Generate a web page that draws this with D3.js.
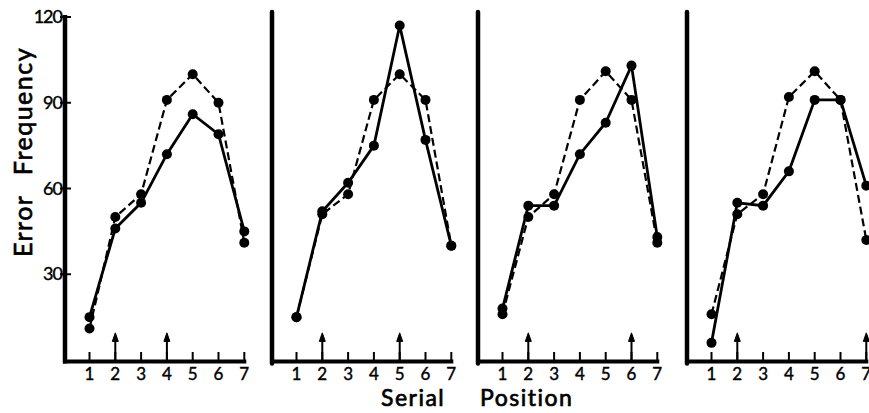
<!DOCTYPE html>
<html>
<head>
<meta charset="utf-8">
<script src="https://cdn.jsdelivr.net/npm/d3@7"></script>
<style>
  body { margin: 0; background: #fff; }
  svg { display: block; font-family: Lato, "DejaVu Sans", sans-serif; }
</style>
</head>
<body>
<div class="chart"></div>
<script>
// serial positions on the x axis
const positions = [1, 2, 3, 4, 5, 6, 7];
const yTicks = [30, 60, 90, 120];

// error frequency per panel, solid and dashed curves
const solidSeries = [
    [15, 46, 55, 72, 86, 79, 45],
    [15, 52, 62, 75, 117, 77, 40],
    [18, 54, 54, 72, 83, 103, 43],
    [6, 55, 54, 66, 91, 91, 61]
];
const dashedSeries = [
    [11, 50, 58, 91, 100, 90, 41],
    [15, 51, 58, 91, 100, 91, 40],
    [16, 50, 58, 91, 101, 91, 41],
    [16, 51, 58, 92, 101, 91, 42]
];
// arrows marking positions in each panel
const arrowSeries = [[2, 4], [2, 5], [2, 6], [2, 7]];

const width = 869, height = 413;
const panelLeft = [65, 272, 478, 687];
const baseY = 360;

const svg = d3.select(".chart").append("svg")
    .attr("width", width)
    .attr("height", height);

const y = d3.scaleLinear().domain([0, 120]).range([baseY, 17]);

solidSeries.forEach((solid, p) => {
    const x0 = panelLeft[p];
    const x = d3.scaleLinear().domain([1, 7]).range([x0 + 24.5, x0 + 179.3]);
    const g = svg.append("g");

    // x axis baseline with upward ticks
    g.append("line")
        .attr("x1", x0 - 2).attr("x2", x(7) + 2)
        .attr("y1", baseY + 1.5).attr("y2", baseY + 1.5)
        .attr("stroke", "#000").attr("stroke-width", 4);

    g.selectAll(".xtick").data(positions).enter().append("line")
        .attr("x1", d => x(d)).attr("x2", d => x(d))
        .attr("y1", baseY).attr("y2", baseY - 8)
        .attr("stroke", "#000").attr("stroke-width", 2);

    g.selectAll(".xlabel").data(positions).enter().append("text")
        .attr("x", d => x(d))
        .attr("y", baseY + 20)
        .attr("text-anchor", "middle")
        .attr("font-size", 17)
        .attr("stroke", "#000").attr("stroke-width", 0.4)
        .text(d => d);

    // y axis
    g.append("line")
        .attr("x1", x0).attr("x2", x0)
        .attr("y1", p === 0 ? 15 : 12).attr("y2", baseY + 3.5)
        .attr("stroke", "#000").attr("stroke-width", 4.5)
        .attr("stroke-linecap", p === 0 ? "butt" : "round");

    if (p === 0) {
        g.selectAll(".ytick").data(yTicks).enter().append("line")
            .attr("x1", x0 - 5).attr("x2", x0 + 6)
            .attr("y1", d => y(d)).attr("y2", d => y(d))
            .attr("stroke", "#000").attr("stroke-width", 2);

        g.selectAll(".ylabel").data(yTicks).enter().append("text")
            .attr("x", x0 - 3)
            .attr("y", d => y(d) + 6)
            .attr("text-anchor", "end")
            .attr("font-size", 18)
            .attr("letter-spacing", -1)
            .attr("stroke", "#000").attr("stroke-width", 0.4)
            .text(d => d);
    }

    // arrows
    arrowSeries[p].forEach(a => {
        g.append("line")
            .attr("x1", x(a)).attr("x2", x(a))
            .attr("y1", baseY).attr("y2", y(8.5))
            .attr("stroke", "#000").attr("stroke-width", 2);
        g.append("path")
            .attr("d", `M${x(a) - 3},${y(6.5)} L${x(a)},${y(9.5)} L${x(a) + 3},${y(6.5)} Z`)
            .attr("fill", "#000").attr("stroke", "#000").attr("stroke-width", 1);
    });

    const line = d3.line()
        .x((d, i) => x(positions[i]))
        .y(d => y(d));

    g.append("path")
        .datum(dashedSeries[p])
        .attr("d", line)
        .attr("fill", "none")
        .attr("stroke", "#000")
        .attr("stroke-width", 2.2)
        .attr("stroke-dasharray", "8,4");

    g.append("path")
        .datum(solid)
        .attr("d", line)
        .attr("fill", "none")
        .attr("stroke", "#000")
        .attr("stroke-width", 2.8);

    const dots = dashedSeries[p].concat(solid);
    g.selectAll(".dot").data(dots).enter().append("circle")
        .attr("cx", (d, i) => x(positions[i % 7]))
        .attr("cy", d => y(d))
        .attr("r", 5)
        .attr("fill", "#000");
});

// axis titles
svg.append("text")
    .attr("transform", "translate(32,152) rotate(-90)")
    .attr("text-anchor", "middle")
    .attr("font-size", 25)
    .attr("stroke", "#000").attr("stroke-width", 0.7)
    .attr("word-spacing", 12)
    .attr("letter-spacing", 1.5)
    .text("Error Frequency");

svg.append("text")
    .attr("x", 381).attr("y", 406)
    .attr("font-size", 23)
    .attr("stroke", "#000").attr("stroke-width", 0.7)
    .attr("letter-spacing", 1.5)
    .text("Serial");

svg.append("text")
    .attr("x", 480).attr("y", 406)
    .attr("font-size", 23)
    .attr("stroke", "#000").attr("stroke-width", 0.7)
    .attr("letter-spacing", 1.5)
    .text("Position");
</script>
</body>
</html>
